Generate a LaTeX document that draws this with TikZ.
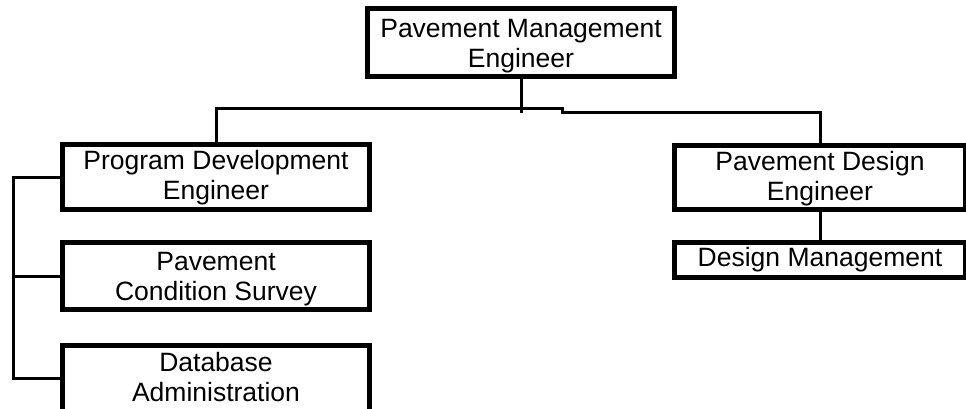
\documentclass[tikz,border=0pt]{standalone}
\usepackage{fontspec}
\setmainfont{Liberation Sans}
\newcommand\tstr{\rule{0pt}{25bp}}
\newcommand\tstrs{\rule{0pt}{21bp}}
\begin{document}
\begin{tikzpicture}[x=1bp,y=-1bp,
  box/.style={draw=black,line width=5bp,rectangle,inner sep=0pt,align=center,
    font=\fontsize{26.5bp}{30bp}\selectfont},
  lbl/.style={inner sep=0pt,align=center,font=\fontsize{26.5bp}{30bp}\selectfont},
  conn/.style={draw=black,line width=3bp}]
\useasboundingbox (0,0) rectangle (966,408);
\clip (0,0) rectangle (966,408);
\fill[white] (0,0) rectangle (966,408);
% boxes
\node[box,minimum width=307bp,minimum height=68bp] (top) at (521,42.5) {\tstr Pavement Management\\Engineer};
\node[box,minimum width=307bp,minimum height=65bp] (prog) at (216,177) {\tstrs Program Development\\Engineer};
\node[box,minimum width=307bp,minimum height=67bp] (pcs) at (216,276) {\tstr Pavement\\Condition Survey};
\node[box,minimum width=307bp,minimum height=90bp] (db) at (216,390.5) {};
\node[lbl] (dbt) at (216,374) {\tstr Database\\Administration};
\node[box,minimum width=291bp,minimum height=64bp] (pde) at (820,177.5) {\tstrs Pavement Design\\Engineer};
\node[box,minimum width=291bp,minimum height=35bp] (dm) at (820,260) {Design Management};
% connector points
\coordinate (tj) at (521,113);
\coordinate (s1) at (562,108);
\coordinate (s2) at (562,112);
\coordinate (bus1) at (13,177);
\coordinate (bus3) at (13,378);
\coordinate (dbin) at (62.5,378);
% connectors
\draw[conn] (top.south) -- (tj);
\draw[conn] (prog.north) |- (s1) -- (s2) -| (pde.north);
\draw[conn] (pde.south) -- (dm.north);
\draw[conn] (prog.west) -- (bus1) -- (bus3) -- (dbin);
\draw[conn] (bus1 |- pcs.west) -- (pcs.west);
\end{tikzpicture}
\end{document}
